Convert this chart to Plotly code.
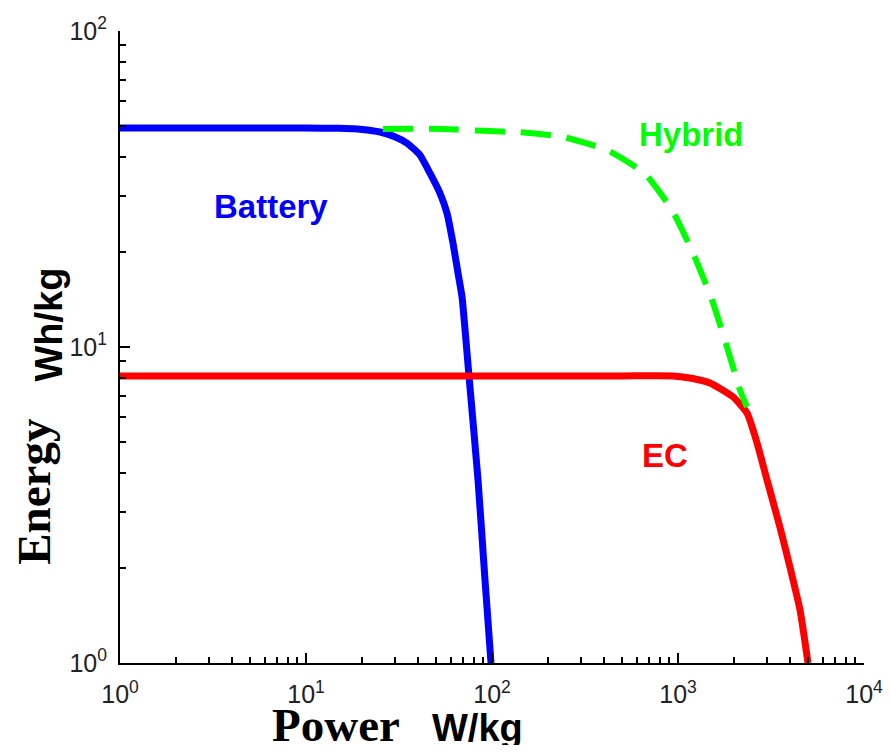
import plotly.graph_objects as go

# ---- data ----
battery_p = [1, 5, 10, 15, 20, 25.0, 30.0, 34.9, 41.0, 46.4, 52.5, 57.3, 61.7, 65.7, 69.0, 75.2, 84.1, 91.7, 98.8]
battery_e = [49.3, 49.3, 49.3, 49.2, 48.8, 47.9, 46.3, 44.2, 40.5, 35.5, 30.7, 26.5, 21.3, 17.1, 14.4, 8.1, 3.8, 1.83, 1.0]

hybrid_p = [25.9, 54.5, 89.5, 141.5, 241, 415, 665, 929, 1205, 1523, 1834, 2153, 2350]
hybrid_e = [49.0, 49.0, 48.3, 47.8, 46.2, 42.0, 35.3, 27.1, 19.8, 14.1, 10.0, 7.31, 6.46]

ec_p = [1, 10, 100, 500, 940, 1200, 1486, 1976, 2350, 2660, 3008, 3532, 4000, 4530, 5000]
ec_e = [8.1, 8.1, 8.1, 8.1, 8.1, 7.95, 7.69, 6.95, 6.18, 4.97, 3.80, 2.69, 2.01, 1.47, 1.0]

x_major = [1, 10, 100, 1000, 10000]
x_major_text = ["10<sup>0</sup>", "10<sup>1</sup>", "10<sup>2</sup>", "10<sup>3</sup>", "10<sup>4</sup>"]
y_major = [1, 10, 100]
y_major_text = ["10<sup>0</sup>", "10<sup>1</sup>", "10<sup>2</sup>"]

x_minor = [m * d for d in [1, 10, 100, 1000] for m in range(2, 10)]
y_minor = [m * d for d in [1, 10] for m in range(2, 10)]

fig = go.Figure()
fig.add_trace(go.Scatter(x=battery_p, y=battery_e, mode="lines",
                         line=dict(color="#0000ff", width=7, shape="spline", smoothing=0.5),
                         showlegend=False))
fig.add_trace(go.Scatter(x=ec_p, y=ec_e, mode="lines",
                         line=dict(color="#ff0000", width=7, shape="spline", smoothing=0.5),
                         showlegend=False))
fig.add_trace(go.Scatter(x=hybrid_p, y=hybrid_e, mode="lines",
                         line=dict(color="#00ff00", width=6, dash="30px,16px", shape="spline", smoothing=0.5),
                         showlegend=False))

tick_font = dict(family="Liberation Sans Narrow, Liberation Sans, Arial", size=25, color="#222222")

fig.update_xaxes(type="log", range=[0, 4], showgrid=False, zeroline=False, automargin=False,
                 showline=True, linecolor="black", linewidth=2,
                 ticks="inside", ticklen=10, tickwidth=1.5, tickcolor="black",
                 tickmode="array", tickvals=x_major, ticktext=x_major_text,
                 tickfont=tick_font, ticklabelstandoff=8, ticklabeloverflow="allow",
                 minor=dict(tickmode="array", tickvals=x_minor, ticks="inside",
                            ticklen=6, tickwidth=1.5, tickcolor="black", showgrid=False))
fig.update_yaxes(type="log", range=[0, 2], showgrid=False, zeroline=False, automargin=False,
                 showline=True, linecolor="black", linewidth=2,
                 ticks="inside", ticklen=10, tickwidth=1.5, tickcolor="black",
                 tickmode="array", tickvals=y_major, ticktext=y_major_text,
                 tickfont=tick_font, ticklabelstandoff=6, ticklabeloverflow="allow",
                 minor=dict(tickmode="array", tickvals=y_minor, ticks="inside",
                            ticklen=6, tickwidth=1.5, tickcolor="black", showgrid=False))

label_font = "Liberation Sans, Arial"
def ann(x, y, text, size, color, family, ref="data", angle=0):
    fig.add_annotation(x=x, y=y, xref="x" if ref == "data" else "paper",
                       yref="y" if ref == "data" else "paper",
                       text=text, showarrow=False, xanchor="center", yanchor="middle",
                       textangle=angle, borderpad=0,
                       font=dict(family=family, size=size, color=color))

ann(0.812, 1.446, "<b>Battery</b>", 33, "#0000ff", label_font)
ann(3.075, 1.674, "<b>Hybrid</b>", 33, "#00ff00", label_font)
ann(2.93, 0.658, "<b>EC</b>", 33, "#ff0000", label_font)

serif = "Liberation Serif, Times New Roman"
ann(0.290, -0.098, "<b>Power</b>", 47, "black", serif, ref="paper")
ann(0.481, -0.103, "<b>W/kg</b>", 38, "black", label_font, ref="paper")
ann(-0.116, 0.272, "<b>Energy</b>", 47, "black", serif, ref="paper", angle=-90)
ann(-0.095, 0.536, "<b>Wh/kg</b>", 38, "black", label_font, ref="paper", angle=-90)

# page body has an 8px margin; size the figure so the plot area lands where the reference has it
fig.update_layout(width=875, height=737, margin=dict(l=112, r=19, t=23, b=82),
                  paper_bgcolor="white", plot_bgcolor="white")

fig.write_html("out.html")
